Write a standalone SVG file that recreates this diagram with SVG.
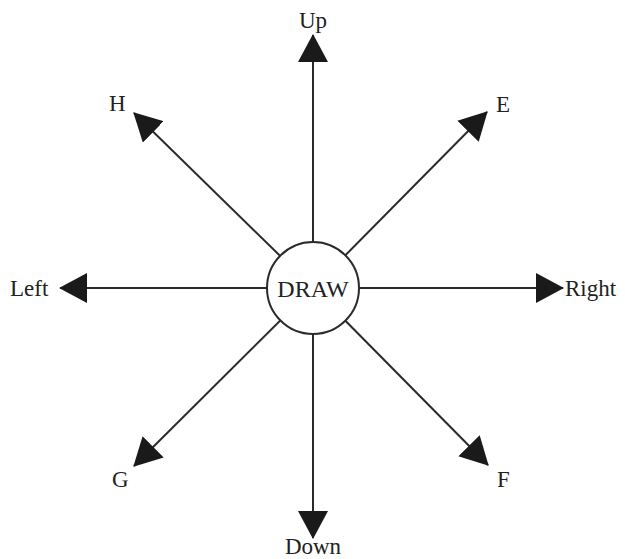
<svg xmlns="http://www.w3.org/2000/svg" width="625" height="559" viewBox="0 0 625 559">
<defs>
<marker id="ah" viewBox="0 0 28 30" refX="27" refY="15" markerWidth="28" markerHeight="30" markerUnits="userSpaceOnUse" orient="auto">
<path d="M0,0 L28,15 L0,30 Z" fill="#1a1a1a"/>
</marker>
<style>
.c{stroke:#2a2a2a;stroke-width:2;fill:none;marker-end:url(#ah)}
.t{font-family:"Liberation Serif","Times New Roman",serif;font-size:23px;fill:#222}
</style>
</defs>
<rect width="625" height="559" fill="#fff"/>
<g id="connectors">
<line class="c" x1="313" y1="288" x2="313" y2="35"/>
<line class="c" x1="313" y1="288" x2="313" y2="538"/>
<line class="c" x1="313" y1="288" x2="60" y2="288"/>
<line class="c" x1="313" y1="288" x2="563" y2="288"/>
<line class="c" x1="313" y1="288" x2="134" y2="113"/>
<line class="c" x1="313" y1="288" x2="487" y2="112"/>
<line class="c" x1="313" y1="288" x2="134" y2="466"/>
<line class="c" x1="313" y1="288" x2="488" y2="465"/>
</g>
<g id="draw">
<circle cx="313" cy="288" r="46" fill="#fff" stroke="#2a2a2a" stroke-width="2"/>
<text class="t" x="313" y="297" text-anchor="middle" style="font-size:24px">DRAW</text>
</g>
<g id="up"><text class="t" x="313" y="28" text-anchor="middle">Up</text></g>
<g id="down"><text class="t" x="313" y="554" text-anchor="middle">Down</text></g>
<g id="left"><text class="t" x="10" y="296">Left</text></g>
<g id="right"><text class="t" x="565" y="296">Right</text></g>
<g id="h"><text class="t" x="109" y="111">H</text></g>
<g id="e"><text class="t" x="496" y="112">E</text></g>
<g id="g"><text class="t" x="112" y="487">G</text></g>
<g id="f"><text class="t" x="497" y="487">F</text></g>
</svg>
